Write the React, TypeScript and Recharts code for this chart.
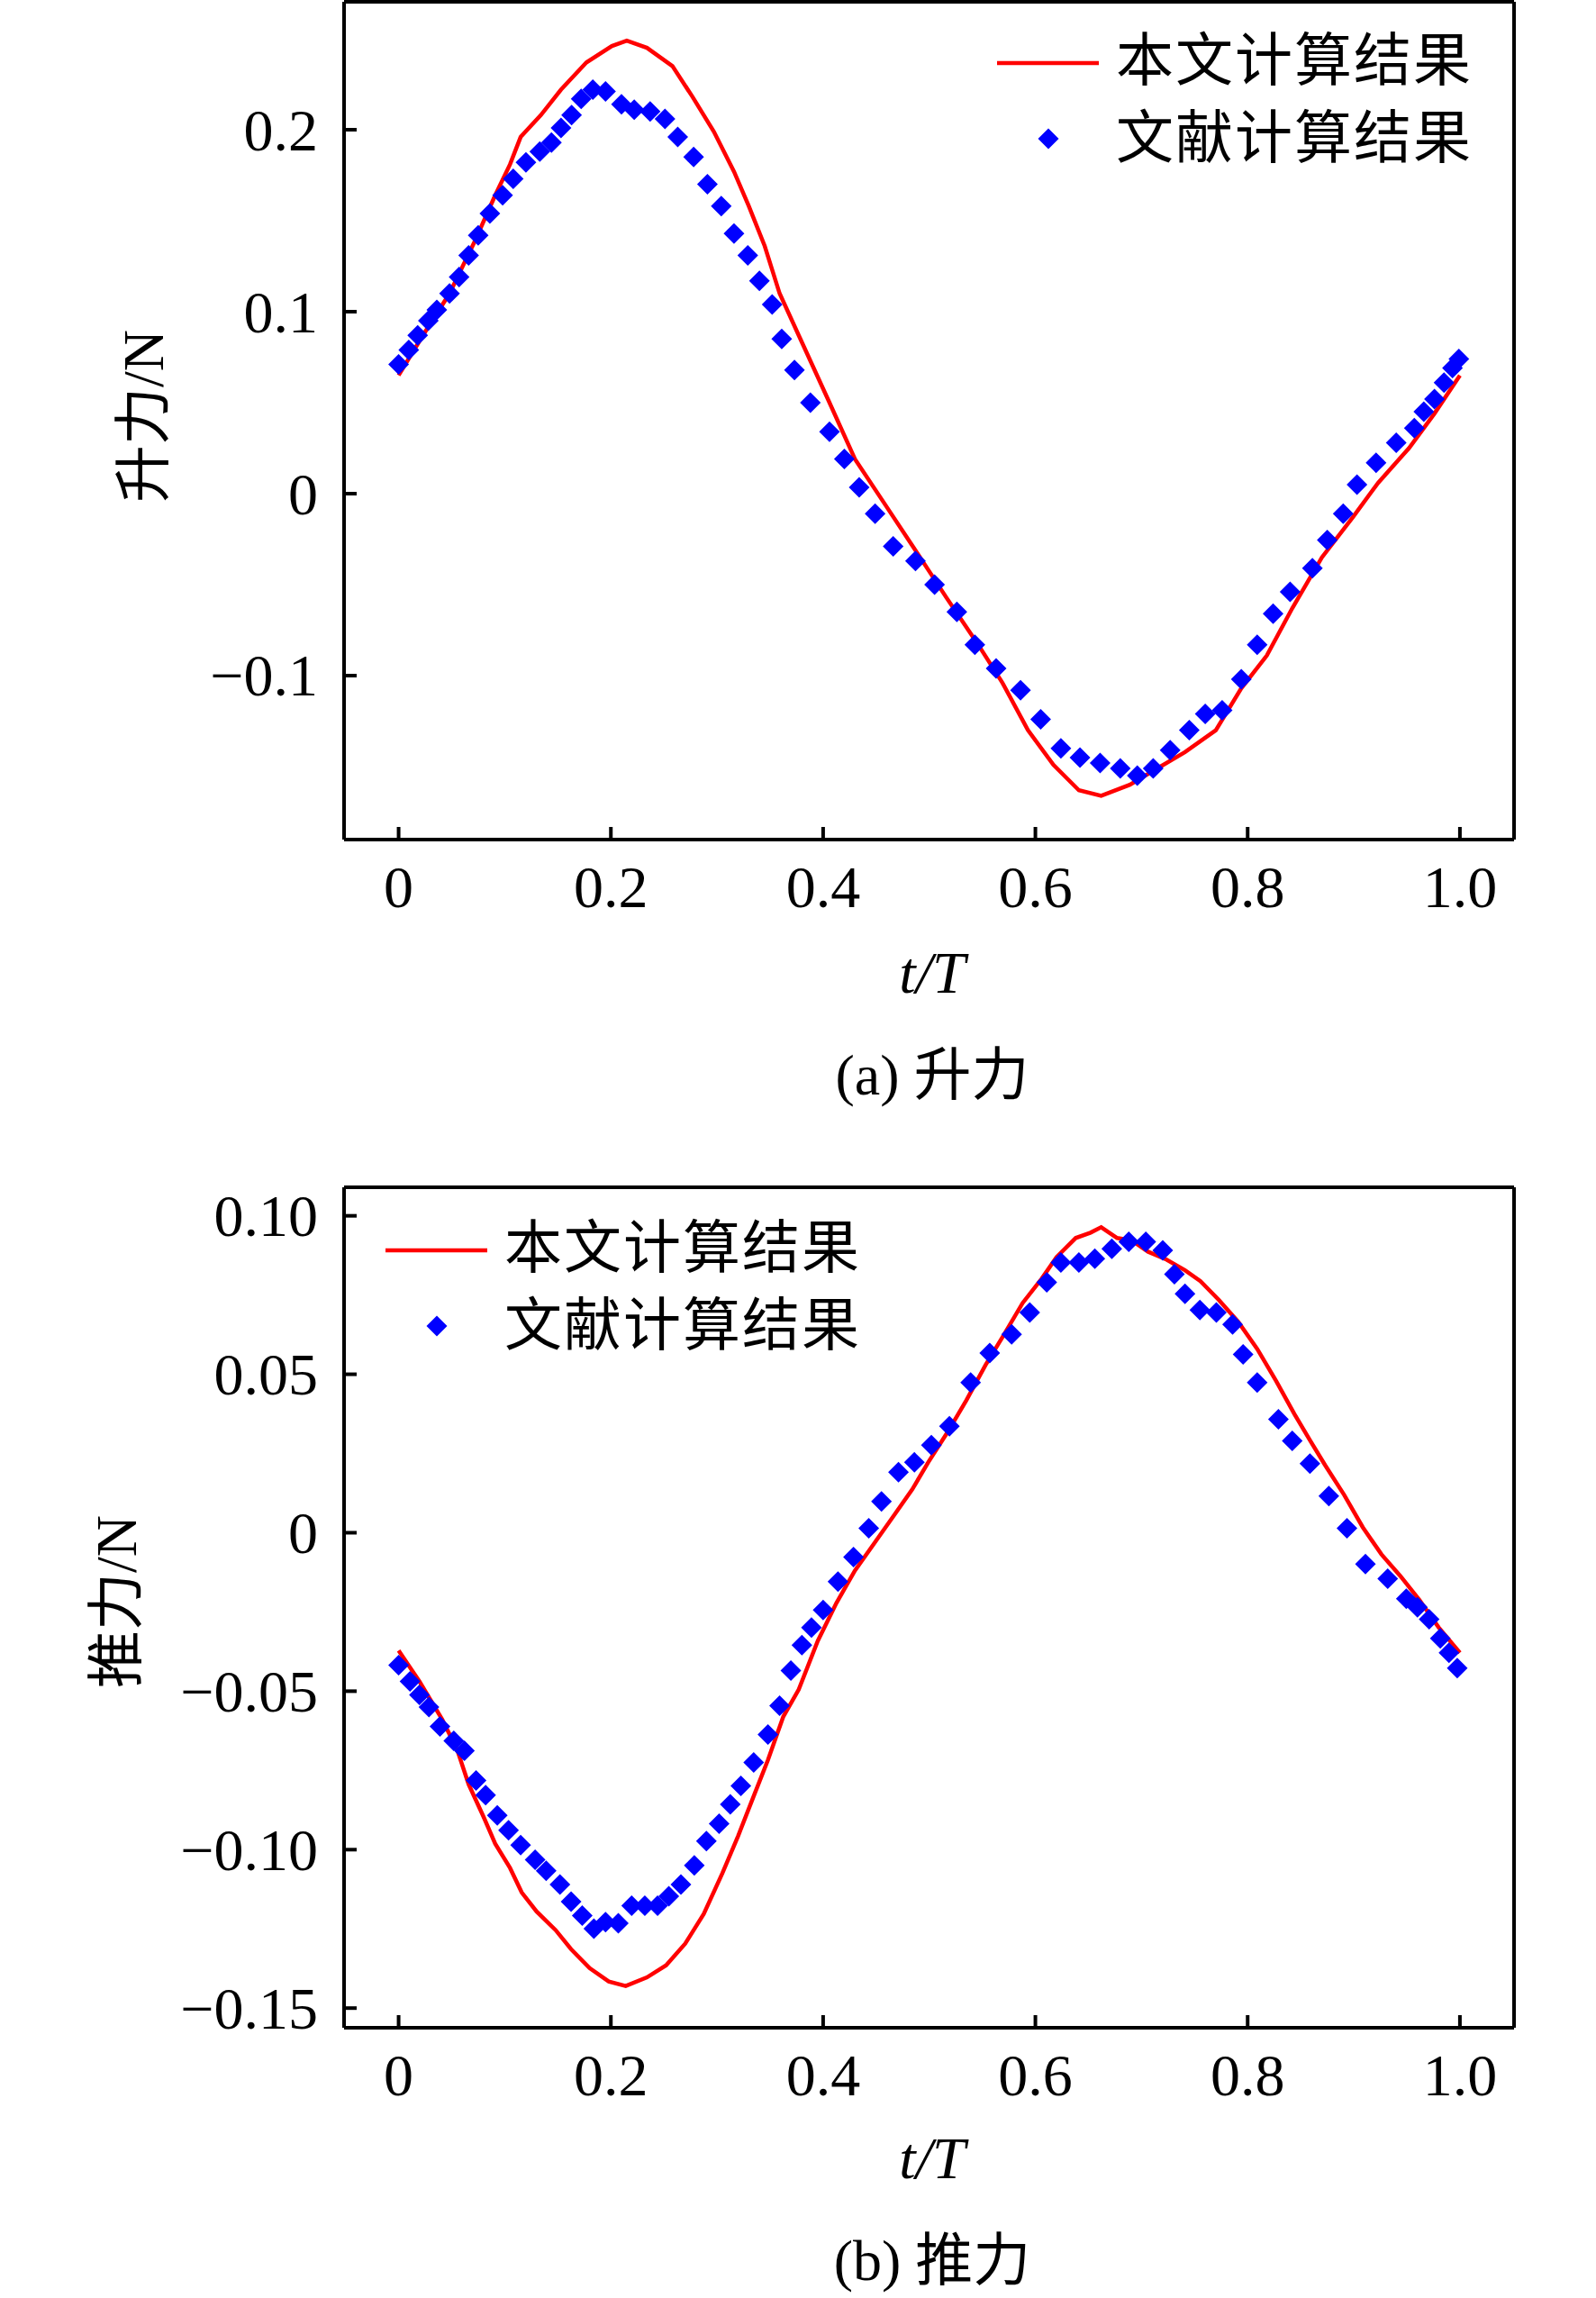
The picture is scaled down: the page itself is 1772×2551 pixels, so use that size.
import { ComposedChart, Line, Scatter, XAxis, YAxis } from "recharts";

// ---- data ---------------------------------------------------------------

const X_TICKS = [0, 0.2, 0.4, 0.6, 0.8, 1.0];
const X_LABELS = ["0", "0.2", "0.4", "0.6", "0.8", "1.0"];

const LIFT_Y_TICKS = [-0.1, 0, 0.1, 0.2];
const LIFT_Y_LABELS = ["\u22120.1", "0", "0.1", "0.2"];

const THRUST_Y_TICKS = [-0.15, -0.1, -0.05, 0, 0.05, 0.1];
const THRUST_Y_LABELS = ["\u22120.15", "\u22120.10", "\u22120.05", "0", "0.05", "0.10"];

// [t/T, force] — 本文计算结果 (lift)
const LIFT_CALC = [
  [0, 0.065], [0.024, 0.088], [0.048, 0.11], [0.072, 0.139], [0.091, 0.164],
  [0.105, 0.181], [0.115, 0.196], [0.134, 0.208], [0.153, 0.222], [0.177, 0.237],
  [0.201, 0.246], [0.215, 0.249], [0.234, 0.245], [0.258, 0.235], [0.277, 0.218],
  [0.297, 0.199], [0.316, 0.177], [0.33, 0.158], [0.345, 0.136], [0.359, 0.11],
  [0.377, 0.087], [0.406, 0.05], [0.43, 0.019], [0.459, -0.0065], [0.488, -0.032],
  [0.516, -0.057], [0.545, -0.082], [0.569, -0.104], [0.593, -0.13], [0.617, -0.149],
  [0.641, -0.163], [0.662, -0.166], [0.689, -0.16], [0.712, -0.152], [0.741, -0.142],
  [0.77, -0.13], [0.794, -0.107], [0.818, -0.089], [0.842, -0.063], [0.87, -0.035],
  [0.899, -0.013], [0.923, 0.006], [0.952, 0.025], [0.976, 0.044], [1.0, 0.065],
];

// 文献计算结果 (lift)
const LIFT_REF = [
  [0, 0.071], [0.0096, 0.079], [0.018, 0.087], [0.028, 0.095], [0.036, 0.101],
  [0.048, 0.11], [0.057, 0.119], [0.066, 0.131], [0.075, 0.142], [0.086, 0.154],
  [0.098, 0.164], [0.108, 0.173], [0.12, 0.182], [0.133, 0.188], [0.144, 0.193],
  [0.153, 0.201], [0.163, 0.208], [0.172, 0.217], [0.183, 0.222], [0.195, 0.221],
  [0.21, 0.214], [0.222, 0.211], [0.237, 0.21], [0.251, 0.206], [0.263, 0.196],
  [0.278, 0.185], [0.291, 0.17], [0.304, 0.158], [0.316, 0.143], [0.329, 0.131],
  [0.34, 0.117], [0.352, 0.104], [0.361, 0.085], [0.373, 0.068], [0.388, 0.05],
  [0.406, 0.034], [0.42, 0.019], [0.434, 0.0035], [0.449, -0.011], [0.466, -0.029],
  [0.487, -0.037], [0.505, -0.05], [0.526, -0.065], [0.543, -0.083], [0.563, -0.096],
  [0.586, -0.108], [0.605, -0.124], [0.624, -0.14], [0.642, -0.145], [0.661, -0.148],
  [0.68, -0.151], [0.696, -0.155], [0.711, -0.151], [0.727, -0.141], [0.745, -0.13],
  [0.76, -0.121], [0.776, -0.119], [0.794, -0.102], [0.809, -0.083], [0.824, -0.066],
  [0.84, -0.054], [0.861, -0.041], [0.875, -0.0255], [0.89, -0.011], [0.903, 0.005],
  [0.921, 0.017], [0.94, 0.028], [0.957, 0.036], [0.966, 0.045], [0.976, 0.052],
  [0.985, 0.061], [0.993, 0.069], [0.999, 0.074],
];

// 本文计算结果 (thrust)
const THRUST_CALC = [
  [0, -0.0372], [0.0196, -0.0469], [0.041, -0.0589], [0.055, -0.0683], [0.066, -0.0794],
  [0.08, -0.0896], [0.091, -0.0981], [0.105, -0.1058], [0.116, -0.1135], [0.13, -0.1195],
  [0.148, -0.1254], [0.1625, -0.1314], [0.18, -0.1374], [0.198, -0.1416], [0.214, -0.143],
  [0.234, -0.1403], [0.252, -0.1365], [0.27, -0.1297], [0.2875, -0.1203], [0.305, -0.1075],
  [0.32, -0.0956], [0.334, -0.0836], [0.348, -0.0717], [0.3625, -0.058], [0.377, -0.0495],
  [0.395, -0.0341], [0.4125, -0.0222], [0.43, -0.0119], [0.448, -0.0034], [0.466, 0.0051],
  [0.484, 0.0137], [0.499, 0.0222], [0.517, 0.0316], [0.535, 0.0418], [0.553, 0.0529],
  [0.57, 0.0623], [0.588, 0.0725], [0.606, 0.0802], [0.62, 0.087], [0.638, 0.093],
  [0.652, 0.0947], [0.662, 0.0964], [0.677, 0.093], [0.691, 0.0922], [0.706, 0.0887],
  [0.7235, 0.0862], [0.741, 0.0828], [0.7555, 0.0794], [0.773, 0.0734], [0.791, 0.0666],
  [0.809, 0.058], [0.827, 0.0478], [0.844, 0.0375], [0.859, 0.029], [0.873, 0.0213],
  [0.891, 0.0119], [0.9085, 0.0017], [0.926, -0.0068], [0.944, -0.0137], [0.962, -0.0213],
  [0.98, -0.0299], [1.0, -0.0379],
];

// 文献计算结果 (thrust)
const THRUST_REF = [
  [0, -0.0418], [0.0107, -0.0469], [0.0196, -0.0512], [0.0286, -0.055], [0.039, -0.0611],
  [0.052, -0.0657], [0.062, -0.0688], [0.073, -0.0782], [0.082, -0.0828], [0.093, -0.0892],
  [0.1036, -0.0939], [0.115, -0.0986], [0.1286, -0.1032], [0.139, -0.1067], [0.152, -0.111],
  [0.1625, -0.1164], [0.173, -0.1208], [0.184, -0.1249], [0.195, -0.1229], [0.207, -0.1232],
  [0.2196, -0.1177], [0.232, -0.1177], [0.244, -0.1177], [0.2546, -0.1147], [0.266, -0.111],
  [0.2786, -0.105], [0.29, -0.0973], [0.302, -0.0918], [0.3125, -0.0857], [0.3225, -0.0799],
  [0.3346, -0.0725], [0.348, -0.0637], [0.359, -0.0546], [0.3696, -0.0435], [0.38, -0.0355],
  [0.389, -0.0299], [0.4, -0.0244], [0.414, -0.0154], [0.4286, -0.0077], [0.443, 0.0014],
  [0.455, 0.0099], [0.471, 0.0191], [0.486, 0.0222], [0.502, 0.0276], [0.519, 0.0336],
  [0.539, 0.0474], [0.557, 0.0567], [0.5776, 0.0626], [0.5947, 0.0695], [0.6107, 0.079],
  [0.624, 0.0853], [0.641, 0.0853], [0.656, 0.0865], [0.672, 0.0896], [0.688, 0.0918],
  [0.704, 0.0918], [0.72, 0.0891], [0.731, 0.0816], [0.741, 0.0754], [0.755, 0.0703],
  [0.7705, 0.0695], [0.7858, 0.0657], [0.7957, 0.0563], [0.809, 0.0474], [0.829, 0.0358],
  [0.842, 0.029], [0.8587, 0.0218], [0.8765, 0.0116], [0.8936, 0.0014], [0.911, -0.0099],
  [0.932, -0.0145], [0.9495, -0.0208], [0.96, -0.0235], [0.971, -0.0273], [0.9815, -0.0333],
  [0.9897, -0.0379], [0.9975, -0.0427],
];

// ---- styling ------------------------------------------------------------

const SERIF = "'Liberation Serif', 'Times New Roman', 'Noto Sans CJK SC', serif";
const RED = "#ff0000";
const BLUE = "#0000ff";
const FRAME = 4;
const TICK_LEN = 14;
const FONT = 66;

const X_DOMAIN = [-0.0514, 1.051];
const W = 1772;

const rows = (pairs: number[][]) => pairs.map(([t, v]) => ({ t, v }));

const labelFor = (ticks: number[], labels: string[], value: number) => {
  const i = ticks.findIndex((t) => Math.abs(t - value) < 1e-9);
  return i >= 0 ? labels[i] : String(value);
};

const Diamond = (p: any) => {
  const { cx, cy } = p;
  if (cx == null || cy == null) return null;
  const r = 11.5;
  return (
    <path
      d={`M${cx},${cy - r}L${cx + r},${cy}L${cx},${cy + r}L${cx - r},${cy}Z`}
      fill={BLUE}
    />
  );
};

const XTick = (p: any) => (
  <g>
    <line x1={p.x} x2={p.x} y1={p.y} y2={p.y - TICK_LEN} stroke="#000" strokeWidth={FRAME} />
    <text
      x={p.x}
      y={p.y + 52}
      textAnchor="middle"
      dominantBaseline="central"
      fontFamily={SERIF}
      fontSize={FONT}
      fill="#000"
    >
      {labelFor(X_TICKS, X_LABELS, p.payload.value)}
    </text>
  </g>
);

const makeYTick = (ticks: number[], labels: string[]) => (p: any) => (
  <g>
    <line x1={p.x} x2={p.x + TICK_LEN} y1={p.y} y2={p.y} stroke="#000" strokeWidth={FRAME} />
    <text
      x={p.x - 29}
      y={p.y}
      textAnchor="end"
      dominantBaseline="central"
      fontFamily={SERIF}
      fontSize={FONT}
      fill="#000"
    >
      {labelFor(ticks, labels, p.payload.value)}
    </text>
  </g>
);

function LegendBox({ left, top }: { left: number; top: number }) {
  const text = {
    position: "absolute" as const,
    left: left + 132,
    fontFamily: SERIF,
    fontSize: 64,
    letterSpacing: 2,
    lineHeight: "64px",
    whiteSpace: "nowrap" as const,
    color: "#000",
  };
  return (
    <>
      <svg
        style={{ position: "absolute", left, top: top - 30 }}
        width={130}
        height={130}
      >
        <line x1={0} x2={113} y1={30} y2={30} stroke={RED} strokeWidth={4.5} />
        <path d="M57,102.5L68.5,114L57,125.5L45.5,114Z" fill={BLUE} />
      </svg>
      <div style={{ ...text, top: top - 34 }}>本文计算结果</div>
      <div style={{ ...text, top: top + 52 }}>文献计算结果</div>
    </>
  );
}

type PanelProps = {
  top: number;
  height: number;
  plotTop: number;
  plotH: number;
  calc: number[][];
  ref_: number[][];
  yDomain: number[];
  yTicks: number[];
  yLabels: string[];
  yTitle: string;
  yTitleX: number;
  caption: string;
  legendLeft: number;
  legendTop: number;
};

const axisLine = { stroke: "#000", strokeWidth: FRAME };

function Panel(props: PanelProps) {
  const { top, height, plotTop, plotH, calc, ref_, yDomain, yTicks, yLabels } = props;
  // each axis takes 1px, so the plot box spans x 382..1681, y plotTop..plotTop+plotH
  const margin = {
    top: plotTop - 1,
    left: 381,
    right: W - 1681 - 1,
    bottom: height - plotTop - plotH - 1,
  };
  return (
    <div style={{ position: "absolute", left: 0, top, width: W, height }}>
      <ComposedChart width={W} height={height} margin={margin}>
        <XAxis
          xAxisId="b"
          dataKey="t"
          type="number"
          domain={X_DOMAIN}
          allowDataOverflow
          ticks={X_TICKS}
          interval={0}
          height={1}
          tickSize={0}
          tickMargin={0}
          tickLine={false}
          tick={XTick}
          axisLine={axisLine}
        />
        <XAxis
          xAxisId="t"
          dataKey="t"
          orientation="top"
          type="number"
          domain={X_DOMAIN}
          allowDataOverflow
          height={1}
          tick={false}
          tickLine={false}
          axisLine={axisLine}
        />
        <YAxis
          yAxisId="l"
          type="number"
          domain={yDomain}
          allowDataOverflow
          ticks={yTicks}
          interval={0}
          width={1}
          tickSize={0}
          tickMargin={0}
          tickLine={false}
          tick={makeYTick(yTicks, yLabels)}
          axisLine={axisLine}
        />
        <YAxis
          yAxisId="r"
          orientation="right"
          type="number"
          domain={yDomain}
          allowDataOverflow
          width={1}
          tick={false}
          tickLine={false}
          axisLine={axisLine}
        />
        <Scatter
          name="文献计算结果"
          data={rows(ref_)}
          dataKey="v"
          xAxisId="b"
          yAxisId="l"
          shape={Diamond}
          isAnimationActive={false}
        />
        <Line
          name="本文计算结果"
          data={rows(calc)}
          dataKey="v"
          xAxisId="b"
          yAxisId="l"
          type="linear"
          stroke={RED}
          strokeWidth={4.5}
          dot={false}
          activeDot={false}
          isAnimationActive={false}
        />
        <Line
          data={rows(calc)}
          dataKey="v"
          xAxisId="t"
          yAxisId="r"
          stroke="none"
          dot={false}
          activeDot={false}
          legendType="none"
          isAnimationActive={false}
        />
      </ComposedChart>

      <LegendBox left={props.legendLeft} top={props.legendTop} />

      <div
        style={{
          position: "absolute",
          left: props.yTitleX,
          top: plotTop + 460,
          transform: "translate(-50%, -50%) rotate(-90deg)",
          fontFamily: SERIF,
          fontSize: 64,
          whiteSpace: "nowrap",
          lineHeight: "64px",
        }}
      >
        {props.yTitle}
      </div>
      <div
        style={{
          position: "absolute",
          left: 1035,
          top: plotTop + 1078,
          transform: "translate(-50%, -50%)",
          fontFamily: SERIF,
          fontStyle: "italic",
          fontSize: FONT,
          whiteSpace: "nowrap",
          lineHeight: "66px",
        }}
      >
        t/T
      </div>
      <div
        style={{
          position: "absolute",
          left: 1035,
          top: plotTop + 1192,
          transform: "translate(-50%, -50%)",
          fontFamily: SERIF,
          fontSize: 64,
          whiteSpace: "nowrap",
          lineHeight: "64px",
        }}
      >
        {props.caption}
      </div>
    </div>
  );
}

export default function App() {
  return (
    <div
      style={{
        position: "absolute",
        left: 0,
        top: 0,
        width: W,
        height: 2551,
        background: "#fff",
        overflow: "hidden",
      }}
    >
      <Panel
        top={0}
        height={1236}
        plotTop={2}
        plotH={930}
        calc={LIFT_CALC}
        ref_={LIFT_REF}
        yDomain={[-0.1901, 0.2703]}
        yTicks={LIFT_Y_TICKS}
        yLabels={LIFT_Y_LABELS}
        yTitle="升力/N"
        yTitleX={160}
        caption="(a) 升力"
        legendLeft={1107}
        legendTop={70}
      />
      <Panel
        top={1240}
        height={1311}
        plotTop={78}
        plotH={933}
        calc={THRUST_CALC}
        ref_={THRUST_REF}
        yDomain={[-0.1562, 0.109]}
        yTicks={THRUST_Y_TICKS}
        yLabels={THRUST_Y_LABELS}
        yTitle="推力/N"
        yTitleX={130}
        caption="(b) 推力"
        legendLeft={428}
        legendTop={148}
      />
    </div>
  );
}
